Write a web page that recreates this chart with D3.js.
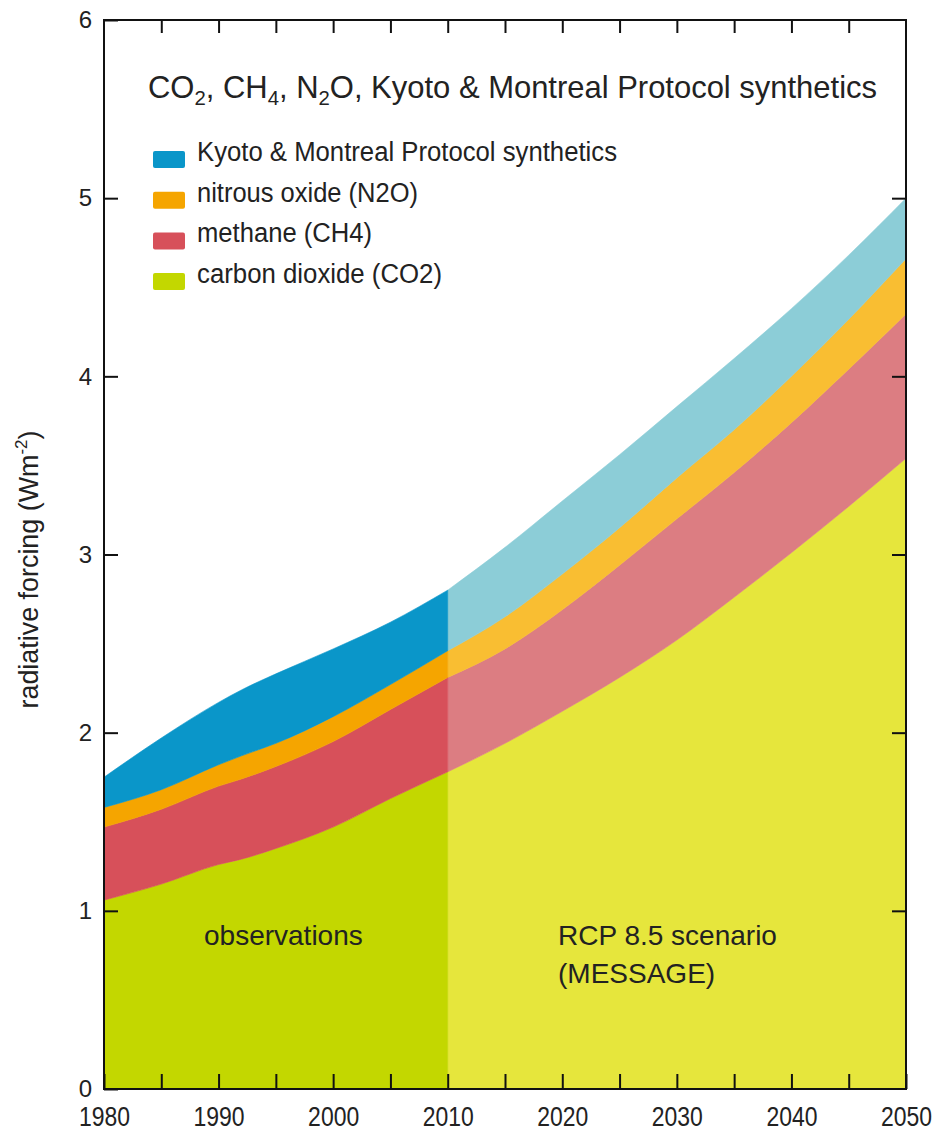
<!DOCTYPE html>
<html>
<head>
<meta charset="utf-8">
<script src="https://cdn.jsdelivr.net/npm/d3@7"></script>
<style>
  body { margin: 0; background: #fff; }
  svg { display: block; }
  svg text { font-family: "Liberation Sans", Arimo, Arial, Helvetica, sans-serif; }
</style>
</head>
<body>
<svg id="chart" width="942" height="1133"></svg>
<script>
// observed forcing (W m-2) per gas
const obsYears  = [1980, 1985, 1990, 1992, 1995, 2000, 2005, 2010];
const obsCO2    = [1.06, 1.15, 1.26, 1.29, 1.35, 1.47, 1.63, 1.78];
const obsCH4    = [0.41, 0.42, 0.44, 0.45, 0.46, 0.48, 0.50, 0.53];
const obsN2O    = [0.11, 0.11, 0.12, 0.13, 0.13, 0.14, 0.14, 0.15];
const obsKyoto  = [0.17, 0.29, 0.35, 0.37, 0.39, 0.38, 0.35, 0.34];

// RCP 8.5 (MESSAGE)
const rcpYears  = [2010, 2015, 2020, 2025, 2030, 2035, 2040, 2045, 2050];
const rcpCO2    = [1.78, 1.94, 2.12, 2.31, 2.52, 2.76, 3.01, 3.27, 3.54];
const rcpCH4    = [0.53, 0.53, 0.57, 0.63, 0.68, 0.70, 0.73, 0.77, 0.81];
const rcpN2O    = [0.15, 0.18, 0.20, 0.21, 0.23, 0.24, 0.26, 0.28, 0.31];
const rcpKyoto  = [0.34, 0.39, 0.41, 0.41, 0.40, 0.40, 0.38, 0.36, 0.34];

const gasKeys = ["co2", "ch4", "n2o", "kyoto"];
const legendLabels = ["Kyoto & Montreal Protocol synthetics", "nitrous oxide (N2O)", "methane (CH4)", "carbon dioxide (CO2)"];
const legendKeys = ["kyoto", "n2o", "ch4", "co2"];
const yTicks = [0, 1, 2, 3, 4, 5, 6];
const xTicks = d3.range(1980, 2051, 5);

const obsColor = { co2: "#c3d700", ch4: "#d7505a", n2o: "#f5a500", kyoto: "#0a96c9" };
const rcpColor = { co2: "#e6e63c", ch4: "#dc7d82", n2o: "#f9be32", kyoto: "#8ccdd7" };

const svg = d3.select("#chart");
const m = { left: 104, right: 906, top: 20, bottom: 1089 };

const x = d3.scaleLinear().domain([1980, 2050]).range([m.left, m.right]);
const y = d3.scaleLinear().domain([0, 6]).range([m.bottom, m.top]);

function rows(years, co2, ch4, n2o, kyoto) {
  return years.map((yr, i) => ({ year: yr, co2: co2[i], ch4: ch4[i], n2o: n2o[i], kyoto: kyoto[i] }));
}

const stack = d3.stack().keys(gasKeys);
const area = d3.area()
  .x(d => x(d.data.year))
  .y0(d => y(d[0]))
  .y1(d => y(d[1]))
  .curve(d3.curveMonotoneX);

// scenario first, then observations
[[rows(rcpYears, rcpCO2, rcpCH4, rcpN2O, rcpKyoto), rcpColor],
 [rows(obsYears, obsCO2, obsCH4, obsN2O, obsKyoto), obsColor]].forEach(([data, col]) => {
  svg.append("g")
    .selectAll("path")
    .data(stack(data))
    .join("path")
    .attr("d", area)
    .attr("fill", d => col[d.key])
    .attr("stroke", d => col[d.key])
    .attr("stroke-width", 0.6);
});

// axes, ticks inward
const axisStyle = g => {
  g.select(".domain").remove();
  g.selectAll("line").attr("stroke", "#111").attr("stroke-width", 2);
};

svg.append("g")
  .attr("transform", `translate(${m.left},0)`)
  .call(d3.axisLeft(y).tickValues(yTicks).tickSize(-14).tickPadding(12).tickFormat(d3.format("d")))
  .call(axisStyle)
  .selectAll("text")
  .attr("font-size", 24)
  .attr("fill", "#222");

svg.append("g")
  .attr("transform", `translate(${m.right},0)`)
  .call(d3.axisRight(y).tickValues(yTicks.slice(1, -1)).tickSize(-14).tickFormat(""))
  .call(axisStyle);

svg.append("g")
  .attr("transform", `translate(0,${m.bottom})`)
  .call(d3.axisBottom(x).tickValues(xTicks).tickSize(-15).tickPadding(17)
    .tickFormat(d => d % 10 === 0 ? d : ""))
  .call(axisStyle)
  .selectAll("text")
  .attr("font-size", 28)
  .attr("fill", "#222")
  .attr("transform", "scale(0.82,1)");

svg.append("g")
  .attr("transform", `translate(0,${m.top})`)
  .call(d3.axisTop(x).tickValues(xTicks.slice(1, -1)).tickSize(-13).tickFormat(""))
  .call(axisStyle);

svg.append("rect")
  .attr("x", m.left).attr("y", m.top)
  .attr("width", m.right - m.left).attr("height", m.bottom - m.top)
  .attr("fill", "none")
  .attr("stroke", "#111")
  .attr("stroke-width", 2);

// y label
const yl = svg.append("text")
  .attr("transform", `translate(38,${(m.top + m.bottom) / 2 + 15}) rotate(-90)`)
  .attr("text-anchor", "middle")
  .attr("font-size", 27)
  .attr("fill", "#222")
  .attr("textLength", 278)
  .attr("lengthAdjust", "spacingAndGlyphs");
yl.append("tspan").text("radiative forcing (Wm");
yl.append("tspan").attr("font-size", 17).attr("dy", -11).text("-2");
yl.append("tspan").attr("dy", 11).text(")");

// title with subscripts
const title = svg.append("text")
  .attr("x", 148).attr("y", 98)
  .attr("font-size", 32)
  .attr("fill", "#222")
  .attr("textLength", 729)
  .attr("lengthAdjust", "spacingAndGlyphs");
[["CO", ""], ["2", "sub"], [", CH", ""], ["4", "sub"], [", N", ""], ["2", "sub"],
 ["O, Kyoto & Montreal Protocol synthetics", ""]].forEach(([t, s], i, arr) => {
  const prev = i > 0 && arr[i - 1][1] === "sub";
  title.append("tspan")
    .attr("font-size", s ? 21 : null)
    .attr("dy", s ? 7 : (prev ? -7 : null))
    .text(t);
});

// legend
const legend = svg.append("g");
legendKeys.forEach((k, i) => {
  const by = 161 + i * 40.7;
  legend.append("rect")
    .attr("x", 153).attr("y", by - 10)
    .attr("width", 32).attr("height", 17)
    .attr("rx", 2)
    .attr("fill", obsColor[k]);
  const len = [420, 221, 175, 245][i];
  legend.append("text")
    .attr("x", 197).attr("y", by)
    .attr("font-size", 27)
    .attr("fill", "#222")
    .attr("textLength", len)
    .attr("lengthAdjust", "spacingAndGlyphs")
    .text(legendLabels[i]);
});

// period annotations
svg.append("text").attr("x", 204).attr("y", 945)
  .attr("font-size", 28).attr("fill", "#222").text("observations");
svg.append("text").attr("x", 558).attr("y", 945)
  .attr("font-size", 28).attr("fill", "#222").text("RCP 8.5 scenario");
svg.append("text").attr("x", 558).attr("y", 983)
  .attr("font-size", 28).attr("fill", "#222").text("(MESSAGE)");
</script>
</body>
</html>
